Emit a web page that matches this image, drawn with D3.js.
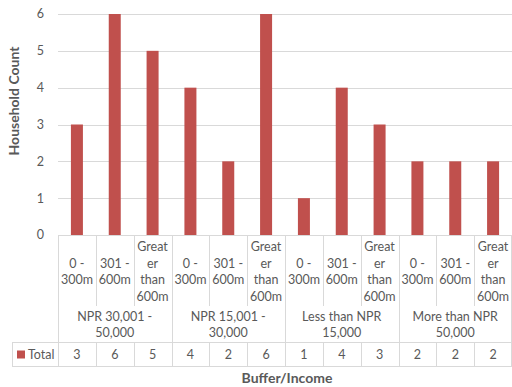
<!DOCTYPE html>
<html>
<head>
<meta charset="utf-8">
<script src="https://cdn.jsdelivr.net/npm/d3@7"></script>
<style>
  html, body { margin: 0; padding: 0; background: #fff; }
  svg { display: block; font-family: Lato, "Open Sans", sans-serif; }
</style>
</head>
<body>
<svg id="chart" width="512" height="387"></svg>
<script>
// Household counts by income group and distance buffer
const groups = ["NPR 30,001 - 50,000", "NPR 15,001 - 30,000", "Less than NPR 15,000", "More than NPR 50,000"];
const groupLines = [["NPR 30,001 -", "50,000"], ["NPR 15,001 -", "30,000"], ["Less than NPR", "15,000"], ["More than NPR", "50,000"]];
const buffers = ["0 - 300m", "301 - 600m", "Greater than 600m"];
const bufferLines = [["0 -", "300m"], ["301 -", "600m"], ["Great", "er", "than", "600m"]];
const totals = [3, 6, 5, 4, 2, 6, 1, 4, 3, 2, 2, 2];
const yTicks = [0, 1, 2, 3, 4, 5, 6];
const seriesName = "Total";

const barColor = "#c0504d";
const gridColor = "#d9d9d9";
const textColor = "#595959";

const svg = d3.select("#chart");

const plotLeft = 58, plotRight = 512, plotTop = 14, plotBottom = 235;
const rowSub = 306, rowGroup = 342, rowEnd = 366, legendLeft = 12;

// one flat list of category keys
const cats = [];
groups.forEach((g, gi) => buffers.forEach((b, bi) => cats.push({ key: g + "|" + b, gi, bi })));

const x = d3.scaleBand().domain(cats.map(c => c.key)).range([plotLeft, plotRight]).paddingInner(0).paddingOuter(0);
const y = d3.scaleLinear().domain([0, 6]).range([plotBottom, plotTop]);

// horizontal gridlines
svg.append("g").selectAll("line").data(yTicks).join("line")
  .attr("x1", plotLeft).attr("x2", plotRight)
  .attr("y1", d => Math.round(y(d)) + 0.5).attr("y2", d => Math.round(y(d)) + 0.5)
  .attr("stroke", gridColor).attr("stroke-width", 1);

// y tick labels
svg.append("g").selectAll("text").data(yTicks).join("text")
  .attr("x", 44).attr("y", d => y(d)).attr("dy", "0.35em")
  .attr("text-anchor", "end").attr("font-size", 12.5).attr("fill", textColor)
  .text(d => d);

// bars
const barW = 12;
svg.append("g").selectAll("rect").data(cats).join("rect")
  .attr("x", d => x(d.key) + x.bandwidth() / 2 - barW / 2)
  .attr("y", (d, i) => y(totals[i]))
  .attr("width", barW)
  .attr("height", (d, i) => y(0) - y(totals[i]))
  .attr("fill", barColor);

// data table grid
const grid = svg.append("g").attr("stroke", gridColor).attr("stroke-width", 1);
const bw = x.bandwidth();
cats.forEach((c, i) => {
  const xl = Math.round(x(c.key)) + 0.5;
  const isGroupStart = c.bi === 0;
  grid.append("line").attr("x1", xl).attr("x2", xl)
    .attr("y1", plotBottom).attr("y2", isGroupStart ? rowGroup : rowSub);
  grid.append("line").attr("x1", xl).attr("x2", xl).attr("y1", rowGroup).attr("y2", rowEnd);
});
const xr = plotRight - 0.5;
grid.append("line").attr("x1", xr).attr("x2", xr).attr("y1", plotBottom).attr("y2", rowEnd);
grid.append("line").attr("x1", legendLeft + 0.5).attr("x2", legendLeft + 0.5).attr("y1", rowGroup).attr("y2", rowEnd);
grid.append("line").attr("x1", legendLeft).attr("x2", plotRight).attr("y1", rowGroup + 0.5).attr("y2", rowGroup + 0.5);
grid.append("line").attr("x1", legendLeft).attr("x2", plotRight).attr("y1", rowEnd + 0.5).attr("y2", rowEnd + 0.5);

// buffer labels
const lh = 16.5;
const subMid = (plotBottom + rowSub) / 2 + 1;
svg.append("g").selectAll("text").data(cats).join("text")
  .attr("text-anchor", "middle").attr("font-size", 12.5).attr("fill", textColor)
  .each(function (c) {
    const lines = bufferLines[c.bi];
    const t = d3.select(this);
    const y0 = subMid - (lines.length - 1) * lh / 2;
    lines.forEach((ln, k) => {
      t.append("tspan").attr("x", x(c.key) + bw / 2).attr("y", y0 + k * lh).attr("dy", "0.35em").text(ln);
    });
  });

// income group labels
const gMid = (rowSub + rowGroup) / 2 + 1;
svg.append("g").selectAll("text").data(groups).join("text")
  .attr("text-anchor", "middle").attr("font-size", 12.5).attr("fill", textColor)
  .each(function (g, gi) {
    const t = d3.select(this);
    const cx = x(g + "|" + buffers[0]) + bw * 1.5;
    groupLines[gi].forEach((ln, k) => {
      t.append("tspan").attr("x", cx).attr("y", gMid - 8 + k * 16).attr("dy", "0.35em").text(ln);
    });
  });

// values row
const vMid = (rowGroup + rowEnd) / 2 + 0.5;
svg.append("g").selectAll("text").data(cats).join("text")
  .attr("x", d => x(d.key) + bw / 2).attr("y", vMid).attr("dy", "0.35em")
  .attr("text-anchor", "middle").attr("font-size", 12.5).attr("fill", textColor)
  .text((d, i) => totals[i]);

// legend key in the table
svg.append("rect").attr("x", 17).attr("y", vMid - 4).attr("width", 8).attr("height", 8).attr("fill", barColor);
svg.append("text").attr("x", 28).attr("y", vMid).attr("dy", "0.35em")
  .attr("font-size", 12.5).attr("fill", textColor).text(seriesName);

// axis titles
svg.append("text").attr("x", (plotLeft + plotRight) / 2 + 2).attr("y", 378).attr("dy", "0.35em")
  .attr("text-anchor", "middle").attr("font-size", 14).attr("font-weight", "bold").attr("fill", textColor)
  .text("Buffer/Income");
svg.append("text").attr("transform", "translate(14,101) rotate(-90)").attr("dy", "0.35em")
  .attr("text-anchor", "middle").attr("font-size", 14).attr("font-weight", "bold").attr("fill", textColor)
  .text("Household Count");
</script>
</body>
</html>
